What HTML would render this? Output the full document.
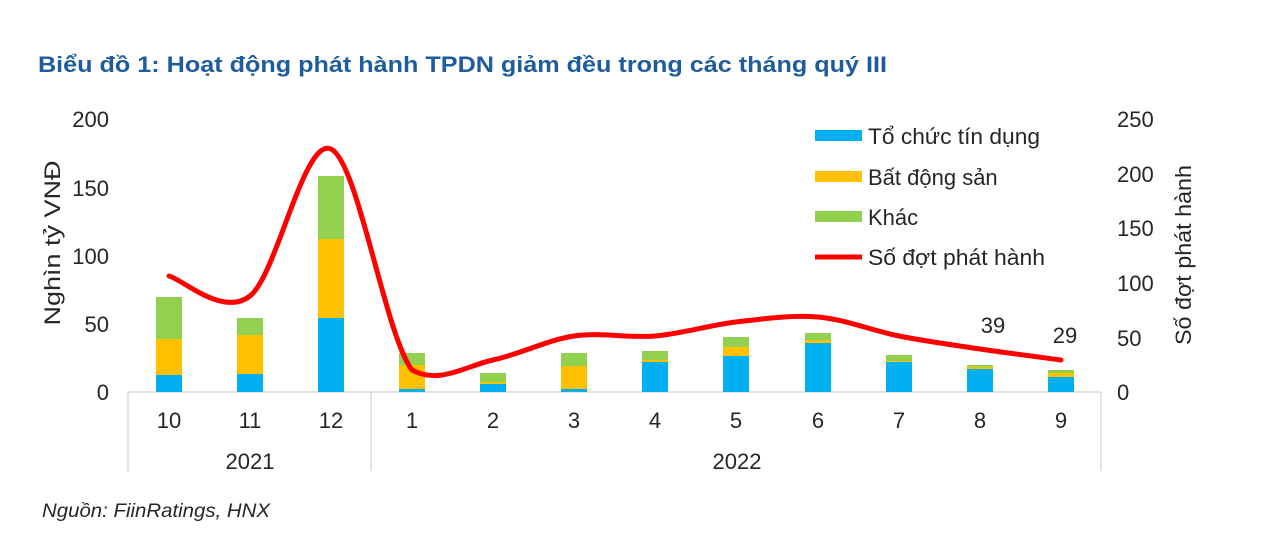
<!DOCTYPE html>
<html><head><meta charset="utf-8"><style>
body{margin:0;background:#fff;width:1280px;height:549px;overflow:hidden;font-family:"Liberation Sans",sans-serif;}
</style></head><body>
<svg width="1280" height="549" xmlns="http://www.w3.org/2000/svg" font-family="Liberation Sans, sans-serif">
<text x="38" y="72" font-size="22" font-weight="bold" fill="#1F5C9E" textLength="849" lengthAdjust="spacingAndGlyphs">Biểu đồ 1: Hoạt động phát hành TPDN giảm đều trong các tháng quý III</text>
<g font-size="22" fill="#262626">
<g text-anchor="end">
<text x="109" y="127">200</text><text x="109" y="196">150</text><text x="109" y="264">100</text><text x="109" y="332">50</text><text x="109" y="400">0</text>
</g>
<text x="1117" y="127">250</text><text x="1117" y="182">200</text><text x="1117" y="236">150</text><text x="1117" y="291">100</text><text x="1117" y="346">50</text><text x="1117" y="400">0</text>
<text transform="translate(60,243) rotate(-90)" text-anchor="middle" textLength="165" lengthAdjust="spacingAndGlyphs">Nghìn tỷ VNĐ</text>
<text transform="translate(1191,255) rotate(-90)" text-anchor="middle" textLength="180" lengthAdjust="spacingAndGlyphs">Số đợt phát hành</text>
<g text-anchor="middle">
<text x="169" y="428">10</text><text x="250" y="428">11</text><text x="331" y="428">12</text><text x="412" y="428">1</text><text x="493" y="428">2</text><text x="574" y="428">3</text><text x="655" y="428">4</text><text x="736" y="428">5</text><text x="818" y="428">6</text><text x="899" y="428">7</text><text x="980" y="428">8</text><text x="1061" y="428">9</text>
<text x="250" y="469">2021</text><text x="737" y="469">2022</text>
<text x="993" y="333">39</text><text x="1065" y="343">29</text>
</g>
</g>
<g stroke="#d0d0d0" stroke-width="1.2">
<line x1="128" y1="392" x2="1101" y2="392"/>
<line x1="128" y1="392" x2="128" y2="471"/>
<line x1="371" y1="392" x2="371" y2="471"/>
<line x1="1101" y1="392" x2="1101" y2="471"/>
</g>
<g>
<rect x="156" y="375" width="26" height="17" fill="#00B0F0"/><rect x="156" y="339" width="26" height="36" fill="#FFC000"/><rect x="156" y="297" width="26" height="42" fill="#92D050"/>
<rect x="237" y="374" width="26" height="18" fill="#00B0F0"/><rect x="237" y="335" width="26" height="39" fill="#FFC000"/><rect x="237" y="318" width="26" height="17" fill="#92D050"/>
<rect x="318" y="318" width="26" height="74" fill="#00B0F0"/><rect x="318" y="239" width="26" height="79" fill="#FFC000"/><rect x="318" y="176" width="26" height="63" fill="#92D050"/>
<rect x="399" y="389" width="26" height="3" fill="#00B0F0"/><rect x="399" y="365" width="26" height="24" fill="#FFC000"/><rect x="399" y="353" width="26" height="12" fill="#92D050"/>
<rect x="480" y="384" width="26" height="8" fill="#00B0F0"/><rect x="480" y="382" width="26" height="2" fill="#FFC000"/><rect x="480" y="373" width="26" height="9" fill="#92D050"/>
<rect x="561" y="389" width="26" height="3" fill="#00B0F0"/><rect x="561" y="366" width="26" height="23" fill="#FFC000"/><rect x="561" y="353" width="26" height="13" fill="#92D050"/>
<rect x="642" y="362" width="26" height="30" fill="#00B0F0"/><rect x="642" y="360" width="26" height="2" fill="#FFC000"/><rect x="642" y="351" width="26" height="9" fill="#92D050"/>
<rect x="723" y="356" width="26" height="36" fill="#00B0F0"/><rect x="723" y="347" width="26" height="9" fill="#FFC000"/><rect x="723" y="337" width="26" height="10" fill="#92D050"/>
<rect x="805" y="343" width="26" height="49" fill="#00B0F0"/><rect x="805" y="340" width="26" height="3" fill="#FFC000"/><rect x="805" y="333" width="26" height="7" fill="#92D050"/>
<rect x="886" y="362" width="26" height="30" fill="#00B0F0"/><rect x="886" y="361" width="26" height="1" fill="#FFC000"/><rect x="886" y="355" width="26" height="6" fill="#92D050"/>
<rect x="967" y="369" width="26" height="23" fill="#00B0F0"/><rect x="967" y="367" width="26" height="2" fill="#FFC000"/><rect x="967" y="365" width="26" height="2" fill="#92D050"/>
<rect x="1048" y="377" width="26" height="15" fill="#00B0F0"/><rect x="1048" y="373" width="26" height="4" fill="#FFC000"/><rect x="1048" y="370" width="26" height="3" fill="#92D050"/>
</g>
<path d="M169,276 C182.5,279.3 223,317.2 250,296 C277,274.8 304,136.7 331,149 C358,161.3 385,334.8 412,370 C439,385 466,365.7 493,360 C520,354.3 547,340 574,336 C601,332 628,338.3 655,336 C682,333.7 709,325.2 736,322 C763,318.8 791,314.7 818,317 C845,319.3 872,330.7 899,336 C926,341.3 953,345 980,349 C1007,353 1047.5,358.2 1061,360" fill="none" stroke="#FF0000" stroke-width="5" stroke-linecap="round"/>
<g font-size="22" fill="#262626">
<rect x="815" y="130" width="47" height="11" fill="#00B0F0"/><text x="868" y="144" textLength="172" lengthAdjust="spacingAndGlyphs">Tổ chức tín dụng</text>
<rect x="815" y="171" width="47" height="11" fill="#FFC000"/><text x="868" y="185">Bất động sản</text>
<rect x="815" y="211" width="47" height="11" fill="#92D050"/><text x="868" y="225">Khác</text>
<line x1="815" y1="257" x2="862" y2="257" stroke="#FF0000" stroke-width="5"/><text x="868" y="265" textLength="177" lengthAdjust="spacingAndGlyphs">Số đợt phát hành</text>
</g>
<text x="42" y="517" font-size="19" font-style="italic" fill="#262626" textLength="228" lengthAdjust="spacingAndGlyphs">Nguồn: FiinRatings, HNX</text>
</svg>
</body></html>
